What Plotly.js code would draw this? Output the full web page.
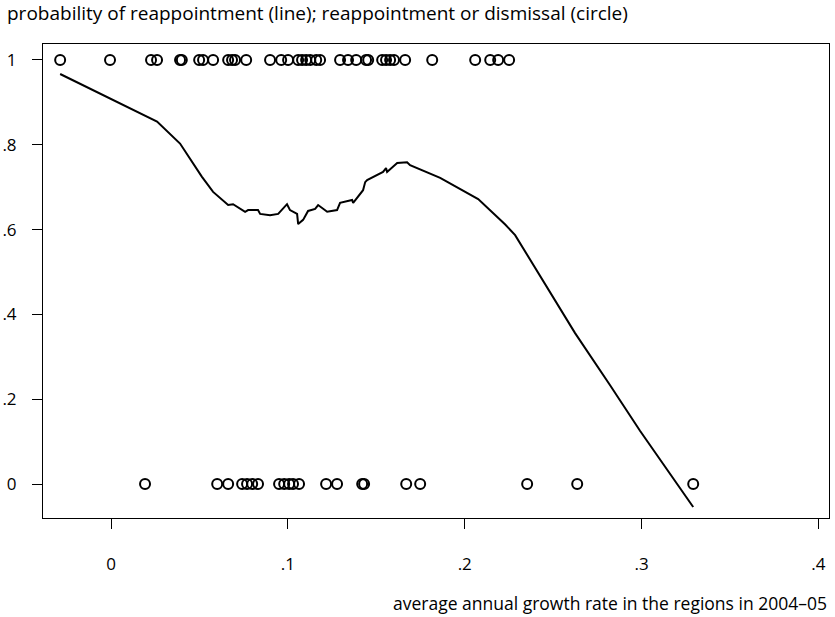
<!DOCTYPE html>
<html>
<head>
<meta charset="utf-8">
<script src="https://cdn.plot.ly/plotly-3.0.1.min.js"></script>
<style>html,body{margin:0;padding:0;background:#fff;}#chart{width:835px;height:617px;}</style>
</head>
<body>
<div id="chart"></div>
<script>
// Regions reappointed (outcome = 1): growth rates
var reappointedX = [-0.0288, -0.0006, 0.0226, 0.026, 0.039, 0.040, 0.0498, 0.052, 0.0577, 0.0662,
  0.0684, 0.0701, 0.0764, 0.0899, 0.0962, 0.1001, 0.1058, 0.108, 0.1103, 0.1126, 0.116, 0.1182,
  0.1295, 0.134, 0.1386, 0.1442, 0.1454, 0.1533, 0.1555, 0.1578, 0.16, 0.1663, 0.1816,
  0.2059, 0.2144, 0.2189, 0.2251];
var reappointedY = [1,1,1,1,1,1,1,1,1,1,1,1,1,1,1,1,1,1,1,1,1,1,1,1,1,1,1,1,1,1,1,1,1,1,1,1,1];
// Regions with dismissal (outcome = 0)
var dismissedX = [0.0192, 0.06, 0.0662, 0.0741, 0.0769, 0.0798, 0.0831, 0.095, 0.0979, 0.1007,
  0.1029, 0.1063, 0.1216, 0.1278, 0.142, 0.1431, 0.1669, 0.1748, 0.2353, 0.2636, 0.3292];
var dismissedY = [0,0,0,0,0,0,0,0,0,0,0,0,0,0,0,0,0,0,0,0,0];
// Smoothed probability of reappointment (line)
var probX = [-0.0288, -0.0006, 0.0192, 0.026, 0.039, 0.0513, 0.0577, 0.0662, 0.069, 0.0758, 0.0775,
  0.0831, 0.0843, 0.0899, 0.0945, 0.0973, 0.0995, 0.1012, 0.1052, 0.1058, 0.1086, 0.1114, 0.1154,
  0.1171, 0.1222, 0.1278, 0.1295, 0.1363, 0.1369, 0.1425, 0.1437, 0.1448, 0.1538, 0.1555, 0.1561,
  0.1618, 0.1674, 0.1691, 0.1787, 0.1861, 0.2076, 0.2144, 0.2229, 0.2285, 0.2455, 0.2624, 0.2822,
  0.2992, 0.3292];
var probY = [0.967, 0.91, 0.87, 0.855, 0.803, 0.725, 0.689, 0.658, 0.660, 0.642, 0.646,
  0.646, 0.637, 0.634, 0.637, 0.651, 0.660, 0.646, 0.637, 0.613, 0.623, 0.644, 0.649,
  0.658, 0.642, 0.646, 0.663, 0.670, 0.663, 0.693, 0.712, 0.717, 0.736, 0.745, 0.736,
  0.757, 0.759, 0.752, 0.736, 0.722, 0.672, 0.645, 0.612, 0.587, 0.47, 0.356, 0.233,
  0.125, -0.054];
var xTickVals = [0, 0.1, 0.2, 0.3, 0.4];
var xTickText = ['0', '.1', '.2', '.3', '.4'];
var yTickVals = [0, 0.2, 0.4, 0.6, 0.8, 1];
var yTickText = ['0', '.2', '.4', '.6', '.8', '1'];
var chartTitle = 'probability of reappointment (line); reappointment or dismissal (circle)';
var xTitle = 'average annual growth rate in the regions in 2004–05';

var FONT = '"Open Sans", Lato, sans-serif';
var circleMarker = {symbol: 'circle-open', size: 10, color: '#000', line: {width: 2, color: '#000'}};
var traces = [
  {x: reappointedX, y: reappointedY, type: 'scatter', mode: 'markers', marker: circleMarker, hoverinfo: 'x'},
  {x: dismissedX, y: dismissedY, type: 'scatter', mode: 'markers', marker: circleMarker, hoverinfo: 'x'},
  {x: probX, y: probY, type: 'scatter', mode: 'lines', line: {color: '#000', width: 2}, hoverinfo: 'x+y'}
];
var layout = {
  width: 835, height: 617,
  margin: {l: 43, r: 6, t: 44, b: 99},
  paper_bgcolor: '#fff', plot_bgcolor: '#fff',
  showlegend: false,
  font: {family: FONT, size: 16, color: '#000'},
  title: {text: chartTitle, x: 7/835, xref: 'container', xanchor: 'left', y: 1 - 13/617, yref: 'container', yanchor: 'middle', font: {family: FONT, size: 19, color: '#000'}},
  xaxis: {range: [-0.0385, 0.406], showgrid: false, zeroline: false, showline: true, mirror: true, linecolor: '#000', linewidth: 1,
    ticks: 'outside', ticklen: 10, tickcolor: '#000', tickwidth: 1, tickvals: xTickVals, ticktext: xTickText, ticklabelstandoff: 21,
    tickfont: {family: FONT, size: 17, color: '#000'}},
  yaxis: {range: [-0.08, 1.0377], showgrid: false, zeroline: false, showline: true, mirror: true, linecolor: '#000', linewidth: 1,
    ticks: 'outside', ticklen: 10, tickcolor: '#000', tickwidth: 1, tickvals: yTickVals, ticktext: yTickText, ticklabelstandoff: 12,
    tickfont: {family: FONT, size: 17, color: '#000'}},
  annotations: [{text: xTitle, xref: 'paper', yref: 'paper', x: 1, xanchor: 'right', y: -85/474, yanchor: 'middle', showarrow: false,
    font: {family: FONT, size: 17.5, color: '#000'}}]
};
Plotly.newPlot('chart', traces, layout, {displayModeBar: false, staticPlot: true});
</script>
</body>
</html>
